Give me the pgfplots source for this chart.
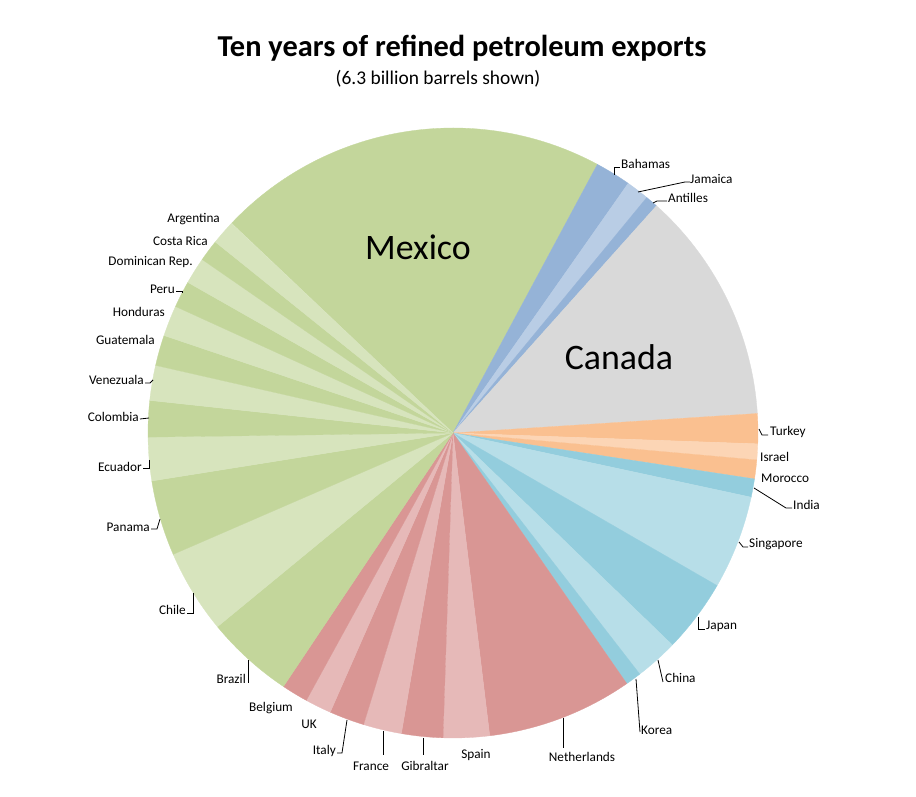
\documentclass[border=0pt]{standalone}
\usepackage{pgfplots}
\pgfplotsset{compat=1.18}
\usepackage{fontspec}
\setmainfont{Carlito}
\definecolor{gD}{HTML}{C3D69B}
\definecolor{gL}{HTML}{D7E4BD}
\definecolor{bD}{HTML}{95B3D7}
\definecolor{bL}{HTML}{B9CDE5}
\definecolor{gray1}{HTML}{D9D9D9}
\definecolor{oD}{HTML}{FAC090}
\definecolor{oL}{HTML}{FCD5B5}
\definecolor{tD}{HTML}{93CDDD}
\definecolor{tL}{HTML}{B7DEE8}
\definecolor{rD}{HTML}{D99694}
\definecolor{rL}{HTML}{E6B9B8}
% exports in million barrels (clockwise from Mexico)
\def\slices{%
1309/gD,%  Mexico
119/bD,%   Bahamas
77/bL,%    Jamaica
42/bD,%    Antilles
779/gray1,% Canada
100/oD,%   Turkey
53/oL,%    Israel
63/oD,%    Morocco
61/tD,%    India
313/tL,%   Singapore
245/tD,%   Japan
144/tL,%   China
53/tD,%    Korea
487/rD,%   Netherlands
154/rL,%   Spain
138/rD,%   Gibraltar
128/rL,%   France
117/rD,%   Italy
88/rL,%    UK
88/rD,%    Belgium
294/gD,%   Brazil
280/gL,%   Chile
252/gD,%   Panama
145/gL,%   Ecuador
121/gD,%   Colombia
117/gL,%   Venezuela
102/gD,%   Guatemala
103/gL,%   Honduras
89/gD,%    Peru
89/gL,%    Dominican Rep.
72/gD,%    Costa Rica
81/gL%     Argentina
}
\def\total{6303}
\def\cx{453}\def\cy{364}\def\R{305}
\newcommand\lbl{\fontsize{13.3}{15}\selectfont}
\begin{document}
\begin{tikzpicture}
\begin{axis}[x=1bp,y=1bp,xmin=0,xmax=916,ymin=0,ymax=797,
  hide axis,clip=false,axis line style={draw=none}]
\path[draw=none] (rel axis cs:0,0) rectangle (rel axis cs:1,1);
\gdef\astart{136.5}
\foreach \v/\c in \slices {
  \pgfmathsetmacro{\aend}{\astart-\v/\total*360}
  \pgfmathsetmacro{\px}{\cx+\R*cos(\astart)}
  \pgfmathsetmacro{\py}{\cy+\R*sin(\astart)}
  \edef\temp{\noexpand\fill[\c,draw=\c,line width=0.3pt] (axis cs:\cx,\cy) -- (axis cs:\px,\py) arc[start angle=\astart,end angle=\aend,radius=\R bp] -- cycle;}
  \temp
  \xdef\astart{\aend}
}
% title
\node[font=\fontsize{30.5}{34}\selectfont\bfseries] at (axis cs:462,749) {Ten years of refined petroleum exports};
\node[font=\fontsize{19.5}{22}\selectfont] at (axis cs:438,718) {(6.3 billion barrels shown)};
\node[font=\fontsize{36}{40}\selectfont] at (axis cs:418,550) {Mexico};
\node[font=\fontsize{36}{40}\selectfont] at (axis cs:619,440) {Canada};
% leader lines
\begin{scope}[black,line width=0.8bp]
\draw (axis cs:614,622) -- (axis cs:614,630) -- (axis cs:620,630);
\draw (axis cs:638,605) -- (axis cs:685,615) -- (axis cs:690,615);
\draw (axis cs:653,594) -- (axis cs:657,596) -- (axis cs:667,596);
\draw (axis cs:759,368) -- (axis cs:762,362) -- (axis cs:768,362);
\draw (axis cs:754,309) -- (axis cs:786,289) -- (axis cs:792,289);
\draw (axis cs:739,255) -- (axis cs:743,250) -- (axis cs:748,250);
\draw (axis cs:698,180) -- (axis cs:698,168) -- (axis cs:705,168);
\draw (axis cs:658,137) -- (axis cs:663,115);
\draw (axis cs:636,118) -- (axis cs:640,65);
\draw (axis cs:563,79) -- (axis cs:563,49);
\draw (axis cs:423,59) -- (axis cs:423,42);
\draw (axis cs:383,66) -- (axis cs:383,42);
\draw (axis cs:347,77) -- (axis cs:342,44) -- (axis cs:337,44);
\draw (axis cs:248,137) -- (axis cs:248,114);
\draw (axis cs:193,204) -- (axis cs:193,184) -- (axis cs:187,184);
\draw (axis cs:160,278) -- (axis cs:157,268) -- (axis cs:151,268);
\draw (axis cs:149,337) -- (axis cs:149,329) -- (axis cs:143,329);
\draw (axis cs:149,379) -- (axis cs:140,378);
\draw (axis cs:153,417) -- (axis cs:150,414) -- (axis cs:145,414);
\draw (axis cs:176,506) -- (axis cs:182,506) -- (axis cs:182,504);
\end{scope}
% labels
\begin{scope}[font=\lbl,inner sep=0pt]
\node[anchor=west] at (axis cs:621,633) {Bahamas};
\node[anchor=west] at (axis cs:690,618) {Jamaica};
\node[anchor=west] at (axis cs:668,599) {Antilles};
\node[anchor=west] at (axis cs:770,365) {Turkey};
\node[anchor=west] at (axis cs:760,340) {Israel};
\node[anchor=west] at (axis cs:761,319) {Morocco};
\node[anchor=west] at (axis cs:793,292) {India};
\node[anchor=west] at (axis cs:749,253) {Singapore};
\node[anchor=west] at (axis cs:706,171) {Japan};
\node[anchor=west] at (axis cs:665,119) {China};
\node[anchor=west] at (axis cs:641,67) {Korea};
\node at (axis cs:582,40) {Netherlands};
\node at (axis cs:476,42) {Spain};
\node at (axis cs:425,31) {Gibraltar};
\node at (axis cs:371,31) {France};
\node[anchor=east] at (axis cs:336,46) {Italy};
\node at (axis cs:309,73) {UK};
\node at (axis cs:271,89) {Belgium};
\node[anchor=east] at (axis cs:246,118) {Brazil};
\node[anchor=east] at (axis cs:186,187) {Chile};
\node[anchor=east] at (axis cs:150,270) {Panama};
\node[anchor=east] at (axis cs:142,330) {Ecuador};
\node[anchor=east] at (axis cs:139,380) {Colombia};
\node[anchor=east] at (axis cs:144,417) {Venezuala};
\node[anchor=east] at (axis cs:155,457) {Guatemala};
\node[anchor=east] at (axis cs:165,485) {Honduras};
\node[anchor=east] at (axis cs:175,508) {Peru};
\node[anchor=east] at (axis cs:193,535) {Dominican Rep.};
\node[anchor=east] at (axis cs:208,556) {Costa Rica};
\node[anchor=east] at (axis cs:220,578) {Argentina};
\end{scope}
\end{axis}
\end{tikzpicture}
\end{document}
